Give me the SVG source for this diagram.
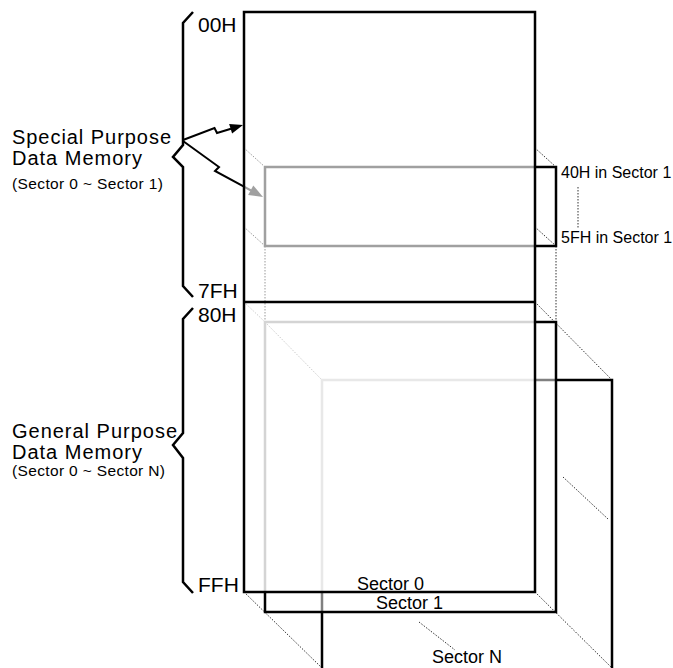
<svg xmlns="http://www.w3.org/2000/svg" width="673" height="668" viewBox="0 0 673 668">
<style>
text{font-family:"Liberation Sans",Arial,sans-serif;fill:#000}
.big{font-size:20px}
.hex{font-size:21px}
.sec{font-size:18px}
.small{font-size:15.5px}
.side{font-size:16px}
.edge{fill:none;stroke:#000;stroke-width:2.5}
.g1{fill:none;stroke:#a0a0a0;stroke-width:2.5}
.g2{fill:none;stroke:#d4d4d4;stroke-width:2.5}
.g3{fill:none;stroke:#e8e8e8;stroke-width:2.5}
.g4{fill:none;stroke:#808080;stroke-width:2.5}
.dot{fill:none;stroke:#333;stroke-width:1;stroke-dasharray:1.5 1.5}
.dotg{fill:none;stroke:#999;stroke-width:1;stroke-dasharray:1.5 1.5}
.dotl{fill:none;stroke:#ccc;stroke-width:1;stroke-dasharray:1.5 1.5}
.brace{fill:none;stroke:#000;stroke-width:2.5;stroke-linejoin:miter}
.arr{fill:none;stroke:#000;stroke-width:2}
</style>
<rect width="673" height="668" fill="#fff"/>
<g id="connectors">
<path class="dotg" d="M244,148L265,167M244,227L265,246M265,246L265,322"/>
<path class="dot" d="M535,148L556,167M535,227L556,246M556,246L556,322M578,187L578,229"/>
<path class="dotl" d="M244,302L265,322M265,322L322,380"/>
<path class="dot" d="M535,302L612,380M244,592L322,668M535,592L612,668M419,622L455,650M563,477L608,519"/>
<polyline class="arr" points="183,140 214.5,128 217,133 231,128.8"/>
<polygon points="243,125 229.1,124 232.1,133.6" fill="#000"/>
<polyline class="arr" points="183,141 219,167 215,171 244,186.7"/>
<line x1="244" y1="186.7" x2="251" y2="190.5" stroke="#a0a0a0" stroke-width="2"/>
<polygon points="263,197 248.1,195.1 253.3,185.5" fill="#a0a0a0"/>
</g>
<g id="sectorN">
<path class="g3" d="M322,592V380H535"/>
<path class="g4" d="M535,380H556M322,592V612"/>
<path class="edge" d="M556,380H612V668M322,612V668"/>
</g>
<g id="sector1">
<path class="g2" d="M265,592V322H535"/>
<path class="edge" d="M535,322H556V612H265V592"/>
</g>
<g id="special">
<path class="g1" d="M535,167H265V246H535"/>
<path class="edge" d="M535,167H556V246H535"/>
</g>
<g id="sector0">
<rect class="edge" x="244" y="12" width="291" height="580"/>
<line class="edge" x1="244" y1="302" x2="535" y2="302"/>
</g>
<g id="braces">
<path class="brace" d="M193,12L183,23V145L173,157L183,167V286L193,297"/>
<path class="brace" d="M193,308L183,319V433L173,445L183,458V582L193,593"/>
</g>
<g id="labels">
<text class="hex" x="198" y="32">00H</text>
<text class="hex" x="198" y="298">7FH</text>
<text class="hex" x="198" y="322">80H</text>
<text class="hex" x="198" y="592">FFH</text>
<text class="big" x="12" y="144" textLength="159" lengthAdjust="spacing">Special Purpose</text>
<text class="big" x="12" y="165" textLength="130" lengthAdjust="spacing">Data Memory</text>
<text class="small" x="12" y="189" textLength="151" lengthAdjust="spacing">(Sector 0 ~ Sector 1)</text>
<text class="big" x="12" y="438" textLength="165" lengthAdjust="spacing">General Purpose</text>
<text class="big" x="12" y="459" textLength="130" lengthAdjust="spacing">Data Memory</text>
<text class="small" x="12" y="476" textLength="153" lengthAdjust="spacing">(Sector 0 ~ Sector N)</text>
<text class="side" x="561" y="178">40H in Sector 1</text>
<text class="side" x="561" y="243">5FH in Sector 1</text>
<text class="sec" x="357" y="590">Sector 0</text>
<text class="sec" x="376" y="609">Sector 1</text>
<text class="sec" x="432" y="663">Sector N</text>
</g>
</svg>
